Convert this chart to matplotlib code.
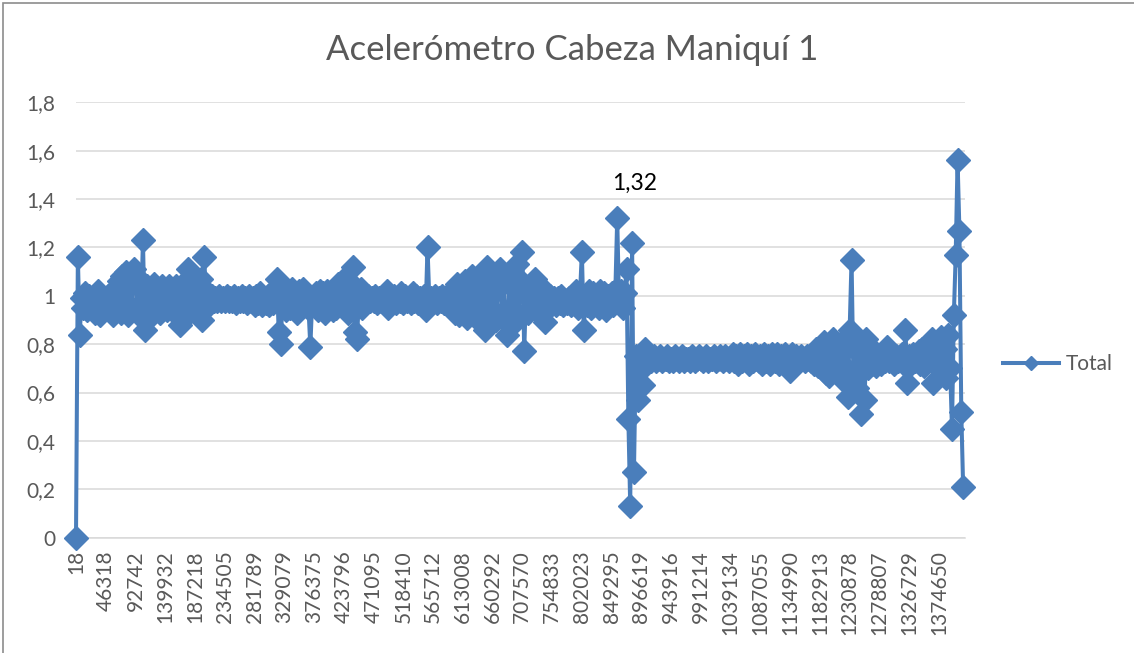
import matplotlib
matplotlib.use("Agg")
import matplotlib.pyplot as plt
from matplotlib.patches import Rectangle

plt.rcParams['font.family'] = ['Lato', 'DejaVu Sans']

# category labels shown on the x axis (one every label_step samples)
categories = ["18", "46318", "92742", "139932", "187218", "234505", "281789", "329079",
              "376375", "423796", "471095", "518410", "565712", "613008", "660292", "707570",
              "754833", "802023", "849295", "896619", "943916", "991214", "1039134", "1087055",
              "1134990", "1182913", "1230878", "1278807", "1326729", "1374650"]
label_step = 16

# acceleration total, one line per labelled interval
total = [
    0.00, 1.16, 0.84, 0.99, 0.95, 1.01, 0.94, 1.00, 0.95, 0.99, 0.93, 1.00, 1.02, 0.92, 0.98, 0.95,
    0.97, 1.00, 0.94, 0.98, 0.92, 1.03, 0.95, 1.06, 0.93, 1.08, 0.94, 1.10, 0.92, 1.09, 0.95, 1.11,
    1.08, 0.93, 1.06, 0.95, 1.23, 0.86, 1.04, 0.94, 1.03, 0.92, 1.05, 0.95, 1.02, 0.93, 1.04, 0.96,
    1.03, 0.94, 1.04, 0.95, 1.02, 0.93, 1.04, 0.96, 0.88, 1.01, 0.94, 1.06, 1.11, 0.93, 1.03, 0.95,
    1.02, 0.94, 1.00, 1.07, 0.90, 1.16, 0.95, 1.01, 0.98, 1.00, 0.98, 0.99, 0.98, 1.00, 0.98, 0.99,
    0.98, 1.00, 0.98, 0.99, 0.98, 1.00, 0.97, 0.99, 0.98, 1.00, 0.98, 0.99, 0.97, 1.00, 0.98, 0.99,
    0.96, 1.00, 0.97, 1.01, 0.96, 0.99, 0.97, 1.00, 0.96, 1.01, 0.97, 0.99, 1.07, 0.85, 0.80, 0.97,
    1.00, 0.94, 1.02, 0.95, 1.03, 0.96, 1.01, 0.93, 1.02, 0.95, 1.03, 0.96, 0.99, 0.95, 0.79, 0.98,
    0.97, 1.01, 0.94, 1.02, 0.95, 1.01, 0.93, 1.02, 0.96, 1.00, 0.94, 1.03, 0.95, 1.05, 0.96, 1.06,
    0.95, 1.04, 0.93, 1.06, 0.94, 1.12, 0.85, 0.82, 0.96, 1.03, 0.95, 1.01, 0.97, 1.00, 0.98, 0.99,
    0.98, 1.00, 0.97, 0.99, 0.98, 1.00, 0.97, 1.02, 0.95, 0.99, 0.98, 1.00, 0.97, 0.99, 0.98, 1.01,
    0.97, 1.00, 0.98, 0.99, 0.97, 1.01, 0.98, 1.00, 0.97, 0.99, 0.98, 1.00, 0.94, 1.20, 0.98, 0.99,
    0.98, 1.00, 0.97, 0.99, 0.98, 1.00, 0.97, 0.99, 0.98, 1.00, 0.96, 1.03, 0.93, 1.05, 0.92, 1.04,
    0.93, 1.06, 0.91, 1.04, 0.94, 1.08, 0.92, 1.05, 0.90, 1.07, 0.93, 1.09, 0.86, 1.12, 0.91, 1.08,
    0.92, 1.06, 0.90, 1.04, 1.11, 0.93, 1.07, 0.89, 0.84, 1.05, 0.91, 1.08, 0.89, 1.13, 0.92, 1.06,
    1.18, 0.77, 1.03, 0.93, 1.04, 0.95, 1.02, 1.07, 0.94, 1.01, 0.92, 1.03, 0.89, 0.98, 0.95, 1.00,
    0.97, 0.99, 0.96, 0.99, 0.97, 1.00, 0.96, 0.98, 0.97, 0.99, 0.96, 1.00, 0.97, 1.02, 0.95, 1.01,
    1.18, 0.86, 1.00, 0.96, 1.02, 0.95, 1.01, 0.97, 1.00, 0.95, 1.02, 0.96, 1.01, 0.94, 1.00, 0.96,
    1.01, 0.96, 1.02, 1.32, 0.97, 1.02, 0.95, 1.01, 1.11, 0.49, 0.13, 1.22, 0.27, 0.75, 0.57, 0.64,
    0.70, 0.63, 0.78, 0.72, 0.75, 0.73, 0.74, 0.75, 0.73, 0.74, 0.75, 0.73, 0.74, 0.74, 0.75, 0.73,
    0.74, 0.73, 0.75, 0.74, 0.73, 0.74, 0.75, 0.73, 0.74, 0.74, 0.73, 0.75, 0.74, 0.73, 0.74, 0.75,
    0.74, 0.73, 0.74, 0.75, 0.73, 0.74, 0.74, 0.75, 0.73, 0.74, 0.75, 0.74, 0.73, 0.75, 0.74, 0.73,
    0.74, 0.76, 0.73, 0.75, 0.72, 0.76, 0.73, 0.75, 0.74, 0.76, 0.72, 0.75, 0.73, 0.76, 0.74, 0.73,
    0.75, 0.72, 0.76, 0.73, 0.75, 0.72, 0.76, 0.74, 0.73, 0.76, 0.72, 0.75, 0.73, 0.76, 0.72, 0.74,
    0.69, 0.76, 0.73, 0.75, 0.74, 0.73, 0.75, 0.74, 0.73, 0.75, 0.74, 0.73, 0.76, 0.72, 0.78, 0.71,
    0.79, 0.70, 0.81, 0.68, 0.77, 0.67, 0.75, 0.82, 0.71, 0.78, 0.70, 0.80, 0.72, 0.77, 0.64, 0.58,
    0.86, 1.15, 0.66, 0.78, 0.62, 0.80, 0.51, 0.72, 0.57, 0.82, 0.70, 0.76, 0.72, 0.77, 0.71, 0.75,
    0.74, 0.72, 0.75, 0.73, 0.79, 0.73, 0.75, 0.74, 0.72, 0.75, 0.73, 0.74, 0.76, 0.72, 0.86, 0.64,
    0.75, 0.72, 0.76, 0.73, 0.74, 0.77, 0.72, 0.78, 0.71, 0.79, 0.73, 0.80, 0.82, 0.64, 0.76, 0.81,
    0.72, 0.83, 0.71, 0.78, 0.66, 0.84, 0.70, 0.45, 0.92, 1.17, 1.56, 1.27, 0.52, 0.21,
]
labelled_value = 1.32

yticks = [0, 0.2, 0.4, 0.6, 0.8, 1.0, 1.2, 1.4, 1.6, 1.8]

blue = "#4a7ebb"
grey_text = "#595959"
W, H = 1134, 653

fig = plt.figure(figsize=(W / 100, H / 100), dpi=100)
ax = fig.add_axes([76 / W, 1 - 537.7 / H, (965 - 76) / W, 435.4 / H])

x = list(range(len(total)))
ax.plot(x, total, color=blue, lw=2.9, marker="D", ms=12.5, clip_on=False,
        label="Total", zorder=3)

ax.set_xlim(0, len(total))
ax.set_ylim(0, 1.8)
ax.set_yticks(yticks)
ax.set_yticklabels([f"{v:g}".replace(".", ",") for v in yticks])
ax.set_xticks(range(0, len(categories) * label_step, label_step))
ax.set_xticklabels(categories, rotation=90, va="top", ha="center")
ax.tick_params(axis="both", length=0, labelsize=15, colors=grey_text)
ax.tick_params(axis="y", pad=15)
ax.tick_params(axis="x", pad=9)

ax.yaxis.grid(True, color="#d9d9d9", lw=1.1)
ax.set_axisbelow(True)
for side in ("left", "right", "top"):
    ax.spines[side].set_visible(False)
ax.spines["bottom"].set_color("#d9d9d9")
ax.spines["bottom"].set_linewidth(1.1)

# data label on the 1,32 peak
i_peak = total.index(labelled_value)
ax.annotate(f"{labelled_value:.2f}".replace(".", ","), (i_peak, labelled_value),
            xytext=(12.5, 25), textcoords="offset points",
            ha="center", va="center", fontsize=16.5, color="black")

fig.text(572 / W, 1 - 50 / H, "Acelerómetro Cabeza Maniquí 1",
         ha="center", va="center", fontsize=25, color=grey_text)

ax.legend(loc="center left", bbox_to_anchor=(1003 / W, 1 - 364 / H),
          bbox_transform=fig.transFigure, frameon=False, handlelength=2.7,
          markerscale=0.55, fontsize=15, labelcolor=grey_text,
          handletextpad=0.3, borderpad=0, borderaxespad=0)

# chart area border
fig.patches.append(Rectangle((3 / W, -0.5), 2, 1.5 - 3 / H, transform=fig.transFigure,
                             fill=False, edgecolor="#8c8c8c", lw=1.2))

fig.savefig("out.png", dpi=100)
